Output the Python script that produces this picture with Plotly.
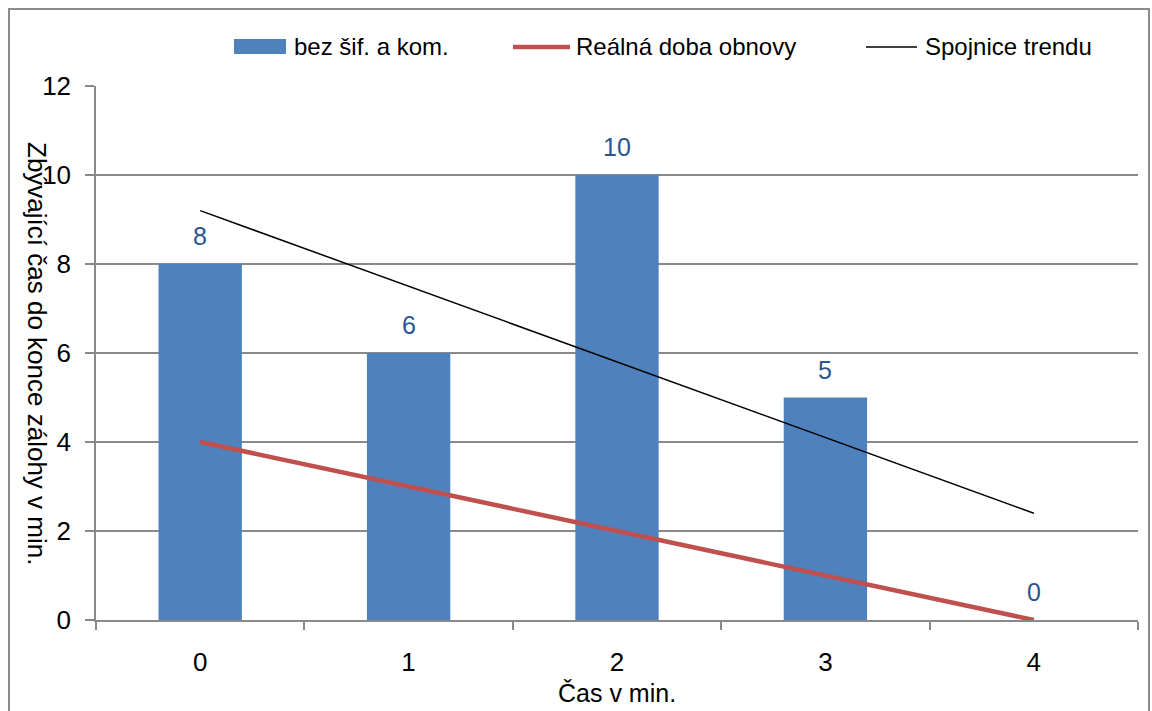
import plotly.graph_objects as go

# ---- data ----
categories = ["0", "1", "2", "3", "4"]
bar_values = [8, 6, 10, 5, 0]
recovery_values = [4, 3, 2, 1, 0]
trend_x = ["0", "4"]
trend_values = [9.2, 2.4]

bar_name = "bez šif. a kom."
line_name = "Reálná doba obnovy"
trend_name = "Spojnice trendu"
x_title = "Čas v min."
y_title = "Zbývající čas do konce zálohy v min."
y_ticks = [0, 2, 4, 6, 8, 10, 12]

# ---- styling ----
W, H = 1152, 711
L, R, T, B = 96, 14, 86, 91
PW, PH = W - L - R, H - T - B
FONT = "Liberation Sans, Arial, sans-serif"
BLUE = "#4F81BD"
RED = "#C0504D"
GRID = "#898989"
LABEL = "#2A5590"


def px(x):
    return (x - L) / PW


def py(y):
    return (H - B - y) / PH


fig = go.Figure()
fig.add_trace(go.Bar(x=categories, y=bar_values, name=bar_name, width=0.4,
                     marker=dict(color=BLUE, line=dict(width=0)),
                     showlegend=False))
fig.add_trace(go.Scatter(x=categories, y=recovery_values, name=line_name, mode="lines",
                         line=dict(color=RED, width=4.5), showlegend=False))
fig.add_trace(go.Scatter(x=trend_x, y=trend_values, name=trend_name, mode="lines",
                         line=dict(color="black", width=1.5), showlegend=False))

annotations = []
for c, v in zip(categories, bar_values):
    annotations.append(dict(x=c, y=v, xref="x", yref="y", text=str(v), showarrow=False,
                            yanchor="middle", yshift=28,
                            font=dict(family=FONT, size=25, color=LABEL)))

annotations.append(dict(x=px(37), y=0.5, xref="paper", yref="paper", text=y_title,
                        textangle=90, showarrow=False, xanchor="center", yanchor="middle",
                        font=dict(family=FONT, size=26, color="black")))
annotations.append(dict(x=0.5, y=py(693), xref="paper", yref="paper", text=x_title,
                        showarrow=False, xanchor="center", yanchor="middle",
                        font=dict(family=FONT, size=25, color="black")))

# legend
leg_y = py(47)
for text, x0 in [(bar_name, 292), (line_name, 574), (trend_name, 923)]:
    annotations.append(dict(x=px(x0), y=leg_y, xref="paper", yref="paper", text=text,
                            showarrow=False, xanchor="left", yanchor="middle",
                            font=dict(family=FONT, size=24, color="black")))

shapes = [
    dict(type="rect", xref="paper", yref="paper", x0=px(234), x1=px(286), y0=py(54), y1=py(39),
         fillcolor=BLUE, line=dict(width=0)),
    dict(type="line", xref="paper", yref="paper", x0=px(513), x1=px(570), y0=leg_y, y1=leg_y,
         line=dict(color=RED, width=4.5)),
    dict(type="line", xref="paper", yref="paper", x0=px(866), x1=px(917), y0=leg_y, y1=leg_y,
         line=dict(color="black", width=1.5)),
    dict(type="rect", xref="paper", yref="paper", x0=px(9), x1=px(1149), y0=py(740), y1=py(9),
         line=dict(color="#8C8C8C", width=2), fillcolor="rgba(0,0,0,0)", layer="below"),
]

fig.update_layout(
    width=W, height=H,
    margin=dict(l=L, r=R, t=T, b=B, pad=0),
    paper_bgcolor="white", plot_bgcolor="white",
    font=dict(family=FONT, size=25, color="black"),
    showlegend=False,
    annotations=annotations,
    shapes=shapes,
    bargap=0.6,
)
fig.update_xaxes(type="category", tickson="boundaries", ticks="outside", ticklen=8,
                 tickcolor=GRID, tickwidth=1.5, showline=True, linecolor=GRID, linewidth=1.5,
                 showgrid=False, zeroline=False, ticklabelstandoff=18,
                 tickfont=dict(family=FONT, size=26, color="black"),
                 range=[-0.5, 4.5])
fig.update_yaxes(range=[0, 12], tickvals=y_ticks, ticks="outside", ticklen=9,
                 tickcolor=GRID, tickwidth=1.5, showline=True, linecolor=GRID, linewidth=1.5,
                 showgrid=True, gridcolor=GRID, gridwidth=1.5, zeroline=False,
                 ticklabelstandoff=9,
                 tickfont=dict(family=FONT, size=26, color="black"))

fig.write_html("out.html")
